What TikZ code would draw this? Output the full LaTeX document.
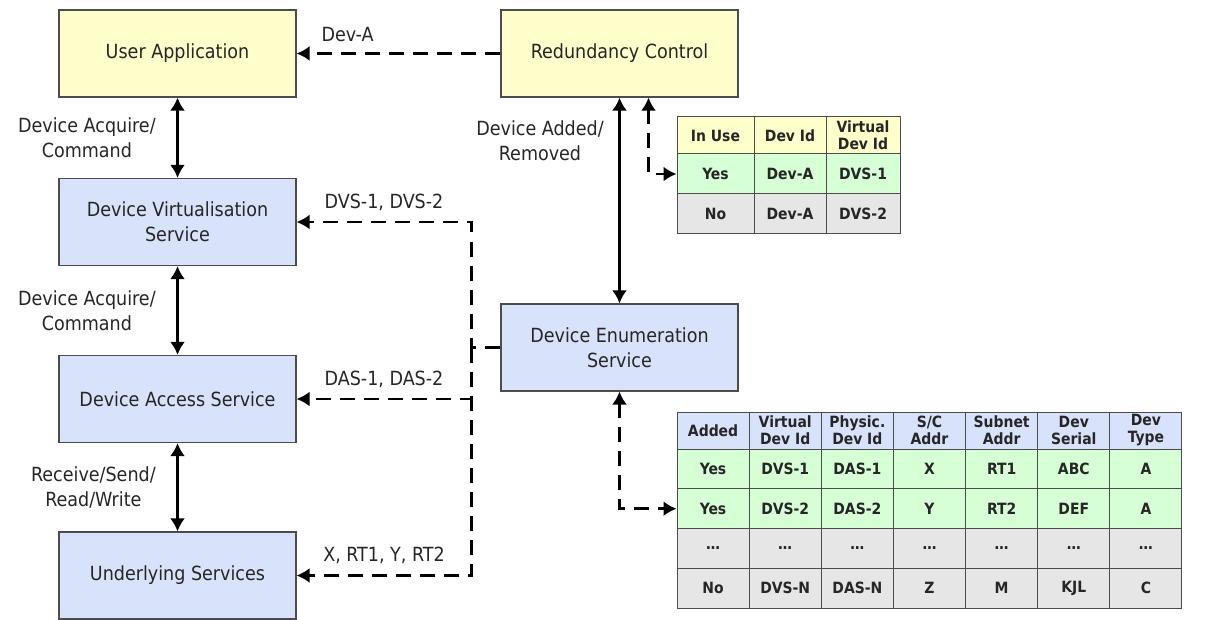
\documentclass[tikz,border=0pt]{standalone}
\usepackage{fontspec}
\setmainfont{DejaVu Sans Condensed}
\usepackage{tikz}
\usetikzlibrary{arrows.meta}
\usepackage{xcolor}
\definecolor{appyellow}{HTML}{FFFFCC}
\definecolor{svcblue}{HTML}{D9E2FB}
\definecolor{rowgreen}{HTML}{D6FFD6}
\definecolor{rowgrey}{HTML}{E6E6E6}
\definecolor{inkgrey}{HTML}{262626}

\begin{document}
\begin{tikzpicture}[x=1pt, y=-1pt,
  >={Latex[length=13pt,width=15pt]},
  box/.style={draw=black!70, line width=1.2pt, minimum width=237pt, minimum height=87pt,
    align=center, text=inkgrey, font=\fontsize{19.5}{25}\selectfont},
  lbl/.style={text=inkgrey, align=center, font=\fontsize{19.5}{25}\selectfont},
  cell/.style={draw=black!70, line width=1pt, inner sep=0pt, align=center, text=inkgrey,
    font=\bfseries\fontsize{15.5}{17}\selectfont},
  solidarrow/.style={line width=3pt, <->},
  dashline/.style={line width=2.5pt, dash pattern=on 15pt off 9pt}]
  \useasboundingbox (0,0) rectangle (1206,620);

  \node[box, fill=appyellow] (usrapp) at (177.5,53.5) {User Application};
  \node[box, fill=appyellow] (redctl) at (619.5,53.5) {Redundancy Control};
  \node[box, fill=svcblue] (devvirt) at (177.5,222) {Device Virtualisation\\Service};
  \node[box, fill=svcblue] (devacc) at (177.5,399) {Device Access Service};
  \node[box, fill=svcblue] (undsvc) at (177.5,575.5) {Underlying Services};
  \node[box, fill=svcblue] (devenum) at (619.5,347.5) {Device Enumeration\\Service};

  % in-use table
  \foreach \x/\w/\hd/\ra/\rb [count=\i] in {715.5/77/In Use/Yes/No,
      790/72/Dev Id/Dev-A/Dev-A, 863/74/{Virtual\\Dev Id}/DVS-1/DVS-2}
  {
    \node[cell, fill=appyellow, minimum width=\w pt, minimum height=37pt] (use-0-\i) at (\x,135.5) {\hd};
    \node[cell, fill=rowgreen, minimum width=\w pt, minimum height=40pt] (use-1-\i) at (\x,174) {\ra};
    \node[cell, fill=rowgrey, minimum width=\w pt, minimum height=40pt] (use-2-\i) at (\x,214) {\rb};
  }

  % enumeration table
  \foreach \hd/\ra/\rb/\rc/\rd [count=\i] in {Added/Yes/Yes/\ldots/No,
      {Virtual\\Dev Id}/DVS-1/DVS-2/\ldots/DVS-N,
      {Physic.\\Dev Id}/DAS-1/DAS-2/\ldots/DAS-N,
      {S/C\\Addr}/X/Y/\ldots/Z,
      {Subnet\\Addr}/RT1/RT2/\ldots/M,
      {Dev\\Serial}/ABC/DEF/\ldots/KJL,
      {Dev\\Type}/A/A/\ldots/C}
  {
    \node[cell, fill=svcblue, minimum width=72.14pt, minimum height=37pt] (enum-0-\i) at ({677+72.14*(\i-0.5)},430.5) {\hd};
    \node[cell, fill=rowgreen, minimum width=72.14pt, minimum height=39.8pt] (enum-1-\i) at ({677+72.14*(\i-0.5)},468.9) {\ra};
    \node[cell, fill=rowgreen, minimum width=72.14pt, minimum height=39.8pt] (enum-2-\i) at ({677+72.14*(\i-0.5)},508.7) {\rb};
    \node[cell, fill=rowgrey, minimum width=72.14pt, minimum height=39.8pt] (enum-3-\i) at ({677+72.14*(\i-0.5)},548.5) {\rc};
    \node[cell, fill=rowgrey, minimum width=72.14pt, minimum height=39.8pt] (enum-4-\i) at ({677+72.14*(\i-0.5)},588.3) {\rd};
  }

  \draw[solidarrow] (usrapp) -- node[lbl, left=17pt] {Device Acquire/\\Command} (devvirt);
  \draw[solidarrow] (devvirt) -- node[lbl, left=17pt] {Device Acquire/\\Command} (devacc);
  \draw[solidarrow] (devacc) -- node[lbl, left=17pt] {Receive/Send/\\Read/Write} (undsvc);
  \draw[solidarrow] (redctl) -- node[lbl, pos=0.21, left=11pt] {Device Added/\\Removed} (devenum);

  \draw[dashline, ->] (redctl.west) -- node[lbl, pos=0.75, above=7pt] {Dev-A} (usrapp.east);
  \draw[dashline, ->] (devenum.west) -- ++(-29,0) coordinate (fork)
    |- node[lbl, pos=0.75, above=7pt] {DVS-1, DVS-2} (devvirt.east);
  \draw[dashline, ->] (fork) |- node[lbl, pos=0.75, above=7pt] {DAS-1, DAS-2} (devacc.east);
  \draw[dashline, ->] (fork) |- node[lbl, pos=0.75, above=7pt] {X, RT1, Y, RT2} (undsvc.east);
  \draw[dashline, <->] ([xshift=29pt]redctl.south) |- (use-1-1.west);
  \draw[dashline, <->] (devenum.south) |- (enum-2-1.west);
\end{tikzpicture}
\end{document}
